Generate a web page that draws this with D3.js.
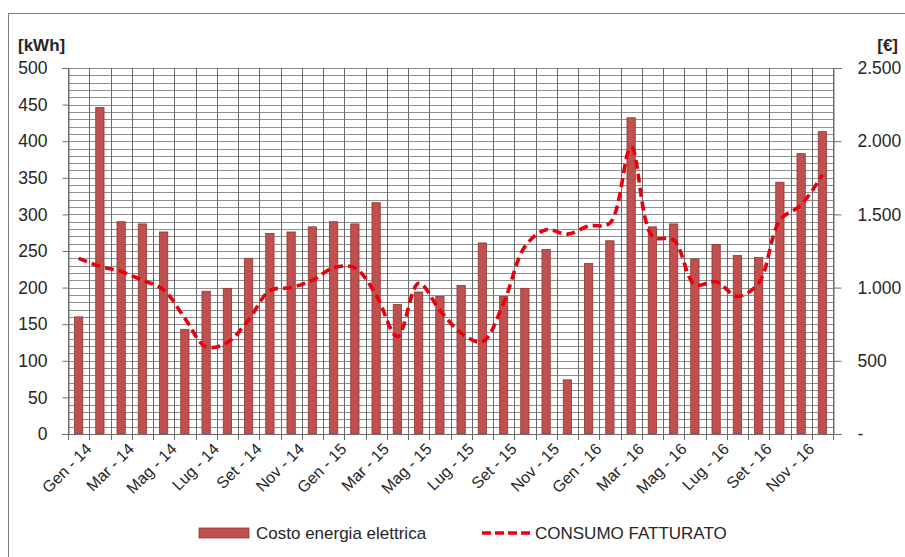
<!DOCTYPE html>
<html>
<head>
<meta charset="utf-8">
<script src="https://cdn.jsdelivr.net/npm/d3@7/dist/d3.min.js"></script>
<style>
  html, body { margin: 0; padding: 0; background: #fff; }
  svg { display: block; font-family: "Liberation Sans", Arial, sans-serif; }
</style>
</head>
<body>
<svg id="chart" width="905" height="557"></svg>
<script>
// Months Gen-14 .. Dic-16
const mesi = ["Gen","Feb","Mar","Apr","Mag","Giu","Lug","Ago","Set","Ott","Nov","Dic"];
const anni = ["14","15","16"];
const categories = anni.flatMap(a => mesi.map(m => m + " - " + a));

// Costo energia elettrica [€] (bars, right axis)
const costo = [800, 2230, 1450, 1435, 1380, 715, 975, 995, 1200, 1370, 1380, 1415,
               1450, 1435, 1580, 885, 970, 940, 1015, 1305, 940, 995, 1260, 370,
               1165, 1320, 2160, 1415, 1435, 1195, 1295, 1220, 1205, 1720, 1915, 2065];

// CONSUMO FATTURATO [kWh] (dashed line, left axis)
const consumo = [240, 229, 222, 210, 197, 158, 119, 125, 156, 196, 200, 210,
                 227, 227, 190, 133, 206, 169, 138, 126, 179, 256, 279, 273,
                 284, 288, 392, 270, 265, 204, 208, 188, 206, 292, 313, 354];

const kwhTicks = [0, 50, 100, 150, 200, 250, 300, 350, 400, 450, 500];
const euroTicks = [0, 500, 1000, 1500, 2000, 2500];

const svg = d3.select("#chart");
const L = 68, R = 833, T = 68, B = 434;

// outer frame
svg.append("rect").attr("x", 8.5).attr("y", 13.5).attr("width", 920).attr("height", 600)
  .attr("fill", "none").attr("stroke", "#7f7f7f").attr("stroke-width", 1);

const x = d3.scaleBand().domain(categories).range([L, R]).paddingInner(0.61).paddingOuter(0.305);
const step = x.step();
const yL = d3.scaleLinear().domain([0, 500]).range([B, T]);
const yR = d3.scaleLinear().domain([0, 2500]).range([B, T]);

const it = d3.formatLocale({decimal: ",", thousands: ".", grouping: [3], currency: ["€", ""]});
const fmtEuro = v => v === 0 ? "-" : it.format(",")(v);

// horizontal grid, every 10 kWh
const grid = svg.append("g");
grid.selectAll("line.h").data(d3.range(10, 501, 10)).join("line")
  .attr("x1", L).attr("x2", R)
  .attr("y1", d => Math.round(yL(d)) + 0.5).attr("y2", d => Math.round(yL(d)) + 0.5)
  .attr("stroke", "#8f8f8f").attr("stroke-width", 1);
// vertical grid at category boundaries
grid.selectAll("line.v").data(d3.range(0, categories.length + 1)).join("line")
  .attr("x1", i => Math.round(L + i * step) + 0.5).attr("x2", i => Math.round(L + i * step) + 0.5)
  .attr("y1", T).attr("y2", B + 6)
  .attr("stroke", "#6a6a6a").attr("stroke-width", 1);

// bars
svg.append("g").selectAll("rect").data(costo).join("rect")
  .attr("x", (d, i) => x(categories[i]))
  .attr("y", d => yR(d))
  .attr("width", x.bandwidth())
  .attr("height", d => yR(0) - yR(d))
  .attr("fill", "#c0504d")
  .attr("stroke", "#8c3836").attr("stroke-width", 0.8);

// consumption line
const line = d3.line()
  .x((d, i) => x(categories[i]) + x.bandwidth() / 2)
  .y(d => yL(d))
  .curve(d3.curveCatmullRom.alpha(0.5));
svg.append("path").datum(consumo)
  .attr("d", line)
  .attr("fill", "none").attr("stroke", "#e8000b").attr("stroke-width", 3.6)
  .attr("stroke-dasharray", "9,5");

// left axis
const axL = d3.axisLeft(yL).tickValues(kwhTicks).tickSize(6).tickPadding(15).tickFormat(d3.format("d"));
const gL = svg.append("g").attr("transform", `translate(${L + 0.5},0)`).call(axL);
gL.select(".domain").attr("stroke", "#6e6e6e");
gL.selectAll(".tick line").attr("stroke", "#6e6e6e");
gL.selectAll(".tick text").attr("font-size", 17.5).attr("fill", "#262626")
  .attr("font-family", "Liberation Sans, Arial, sans-serif");

// right axis
const axR = d3.axisRight(yR).tickValues(euroTicks).tickSize(8).tickPadding(16).tickFormat(fmtEuro);
const gR = svg.append("g").attr("transform", `translate(${R + 0.5},0)`).call(axR);
gR.select(".domain").attr("stroke", "#6e6e6e");
gR.selectAll(".tick line").attr("stroke", "#6e6e6e");
gR.selectAll(".tick text").attr("font-size", 17.5).attr("fill", "#262626")
  .attr("font-family", "Liberation Sans, Arial, sans-serif");

// bottom axis line
svg.append("line").attr("x1", L - 6).attr("x2", R + 6)
  .attr("y1", B + 0.5).attr("y2", B + 0.5).attr("stroke", "#6e6e6e");

// category labels, every other month, slanted
const lbl = svg.append("g").selectAll("g")
  .data(categories.filter((c, i) => i % 2 === 0))
  .join("g")
  .attr("transform", d => `translate(${x(d) + x.bandwidth() / 2 + 6},${B + 8})`);
lbl.append("text")
  .attr("transform", "rotate(-45)")
  .attr("text-anchor", "end")
  .attr("dy", "0.71em")
  .attr("font-size", 16).attr("fill", "#262626")
  .text(d => d);

// unit labels
svg.append("text").attr("x", 18).attr("y", 51).attr("font-size", 17).attr("font-weight", "bold")
  .attr("fill", "#262626").text("[kWh]");
svg.append("text").attr("x", 898).attr("y", 51).attr("text-anchor", "end").attr("font-size", 17)
  .attr("font-weight", "bold").attr("fill", "#262626").text("[€]");

// legend
const lg = svg.append("g");
lg.append("rect").attr("x", 199).attr("y", 528).attr("width", 50).attr("height", 10)
  .attr("fill", "#c0504d").attr("stroke", "#8c3836").attr("stroke-width", 0.8);
lg.append("text").attr("x", 256).attr("y", 539).attr("font-size", 17).attr("fill", "#262626")
  .text("Costo energia elettrica");
lg.append("line").attr("x1", 482).attr("x2", 531).attr("y1", 533).attr("y2", 533)
  .attr("stroke", "#e8000b").attr("stroke-width", 3.6).attr("stroke-dasharray", "9,4");
lg.append("text").attr("x", 535).attr("y", 539).attr("font-size", 17).attr("fill", "#262626")
  .text("CONSUMO FATTURATO");
</script>
</body>
</html>
